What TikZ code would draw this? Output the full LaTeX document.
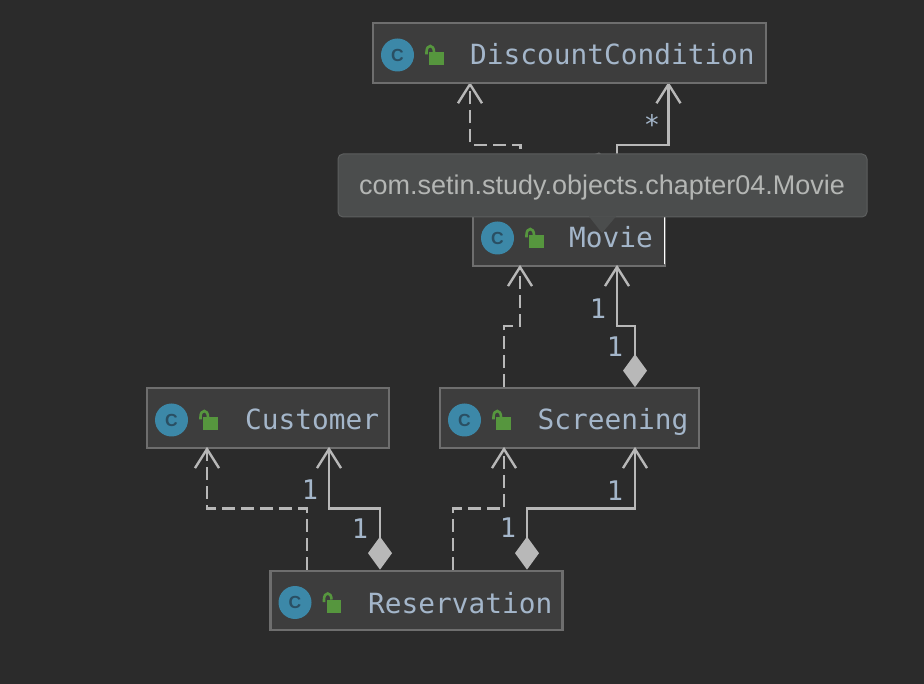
\documentclass[tikz,border=0pt]{standalone}
\usepackage{fontspec}
\setmainfont{Liberation Sans}
\newfontfamily\monof{DejaVu Sans Mono}
\usetikzlibrary{arrows.meta}
\definecolor{bgc}{HTML}{2B2B2B}
\definecolor{boxc}{HTML}{3D3D3D}
\definecolor{edgec}{HTML}{6E6E6E}
\definecolor{linec}{HTML}{B8B8B8}
\definecolor{textc}{HTML}{A4B6CA}
\definecolor{tipc}{HTML}{4B4D4D}
\definecolor{tipe}{HTML}{5C5E5E}
\definecolor{tiptxt}{HTML}{B4B6B4}
\definecolor{iconc}{HTML}{3C88A8}
\definecolor{iconl}{HTML}{2A4F63}
\definecolor{lockc}{HTML}{56963E}
\tikzset{
 classbox/.style={draw=edgec,fill=boxc,line width=2.2pt,rectangle,inner sep=0pt,minimum height=59.5pt},
 classname/.style={anchor=base west,inner sep=0pt,text=textc,font=\monof\fontsize{27.8}{30}\selectfont},
 mult/.style={inner sep=0pt,text=textc,font=\monof\fontsize{27}{30}\selectfont},
 dep/.style={draw=linec,line width=2.4pt,dash pattern=on 13pt off 6pt,shorten >=-2pt,-{Straight Barb[length=19pt,width=24pt,line width=2.4pt]}},
 assoc/.style={draw=linec,line width=2.4pt,shorten >=-2pt,{Diamond[length=33pt,width=24pt,fill=linec,line width=0pt]}-{Straight Barb[length=19pt,width=24pt,line width=2.4pt]}},
 classicon/.pic={
  \fill[iconc] (24.5,0) circle (16.5);
  \node[inner sep=0pt,text=iconl,font=\bfseries\fontsize{17.5}{20}\selectfont] (-c) at (24.5,0) {C};
  \fill[lockc] (56,-2.5) rectangle (70.5,10.5);
  \draw[lockc,line width=2.6pt] (53.5,-0.5) -- (53.5,-3) .. controls (53.5,-11) and (61,-11) .. (61,-3);
 }
}
\begin{document}
\begin{tikzpicture}[x=1pt,y=-1pt]
\useasboundingbox (0,0) rectangle (924,684);
\fill[bgc] (0,0) rectangle (924,684);
% connectors first (under the boxes and the tooltip)
\coordinate (dcl) at (470,84);
\coordinate (dcr) at (668.5,84);
\coordinate (mvl) at (520.5,206);
\coordinate (mvr) at (617,206);
\draw[dep] (mvl) -- ++(0,-61) -| (dcl);
\draw[assoc] (mvr) -- ++(0,-61) -| (dcr);
\node[classbox,minimum width=393pt] (dc) at (569.5,53) {};
\pic at (373,55) {classicon};
\node[classname] (dcn) at (470,65) {DiscountCondition};
\node[classbox,minimum width=192pt] (mv) at (569,236) {};
\pic at (473,238) {classicon};
\node[classname] (mvn) at (569,248) {Movie};
\draw[white,line width=1pt] (664.5,216) -- (664.5,264);
\node[classbox,minimum width=242pt] (cu) at (268,418) {};
\pic at (147,420) {classicon};
\node[classname] (cun) at (245,430) {Customer};
\node[classbox,minimum width=259pt] (sc) at (569.5,418) {};
\pic at (440,420) {classicon};
\node[classname] (scn) at (537.5,430) {Screening};
\node[classbox,minimum width=292pt] (re) at (416.5,600.5) {};
\pic at (270.5,602.5) {classicon};
\node[classname] (ren) at (368,613) {Reservation};
% Screening -> Movie
\draw[dep] ([xshift=-65.5pt]sc.north) -- ++(0,-61) -| ([xshift=-49pt]mv.south);
\draw[assoc] ([xshift=65.5pt]sc.north) -- ++(0,-61) -| ([xshift=48pt]mv.south);
% Reservation -> Customer
\draw[dep] ([xshift=-109.5pt]re.north) -- ++(0,-61) -| ([xshift=-61pt]cu.south);
\draw[assoc] ([xshift=-36.5pt]re.north) -- ++(0,-61) -| ([xshift=61pt]cu.south);
% Reservation -> Screening
\draw[dep] ([xshift=36.5pt]re.north) -- ++(0,-61) -| ([xshift=-65.5pt]sc.south);
\draw[assoc] ([xshift=110.5pt]re.north) -- ++(0,-61) -| ([xshift=65.5pt]sc.south);
% multiplicities
\node[mult] (m0) at (652,124) {*};
\node[mult] (m1) at (598,309) {1};
\node[mult] (m2) at (615,347) {1};
\node[mult] (m3) at (310,490) {1};
\node[mult] (m4) at (360,529) {1};
\node[mult] (m5) at (615,491) {1};
\node[mult] (m6) at (508,528) {1};
% tiny sliver showing above the tooltip
\fill[linec!55!bgc] (595,154) -- (599,152.5) -- (601,154) -- cycle;
% tooltip
\filldraw[fill=tipc,draw=tipe,line width=1pt,rounded corners=5pt] (338,154) rectangle (867,217);
\fill[tipc] (589,216.5) -- (602,233) -- (616,216.5) -- cycle;
\node[inner sep=0pt,text=tiptxt,font=\fontsize{27}{30}\selectfont] (tip) at (602,188) {com.setin.study.objects.chapter04.Movie};
\end{tikzpicture}
\end{document}
